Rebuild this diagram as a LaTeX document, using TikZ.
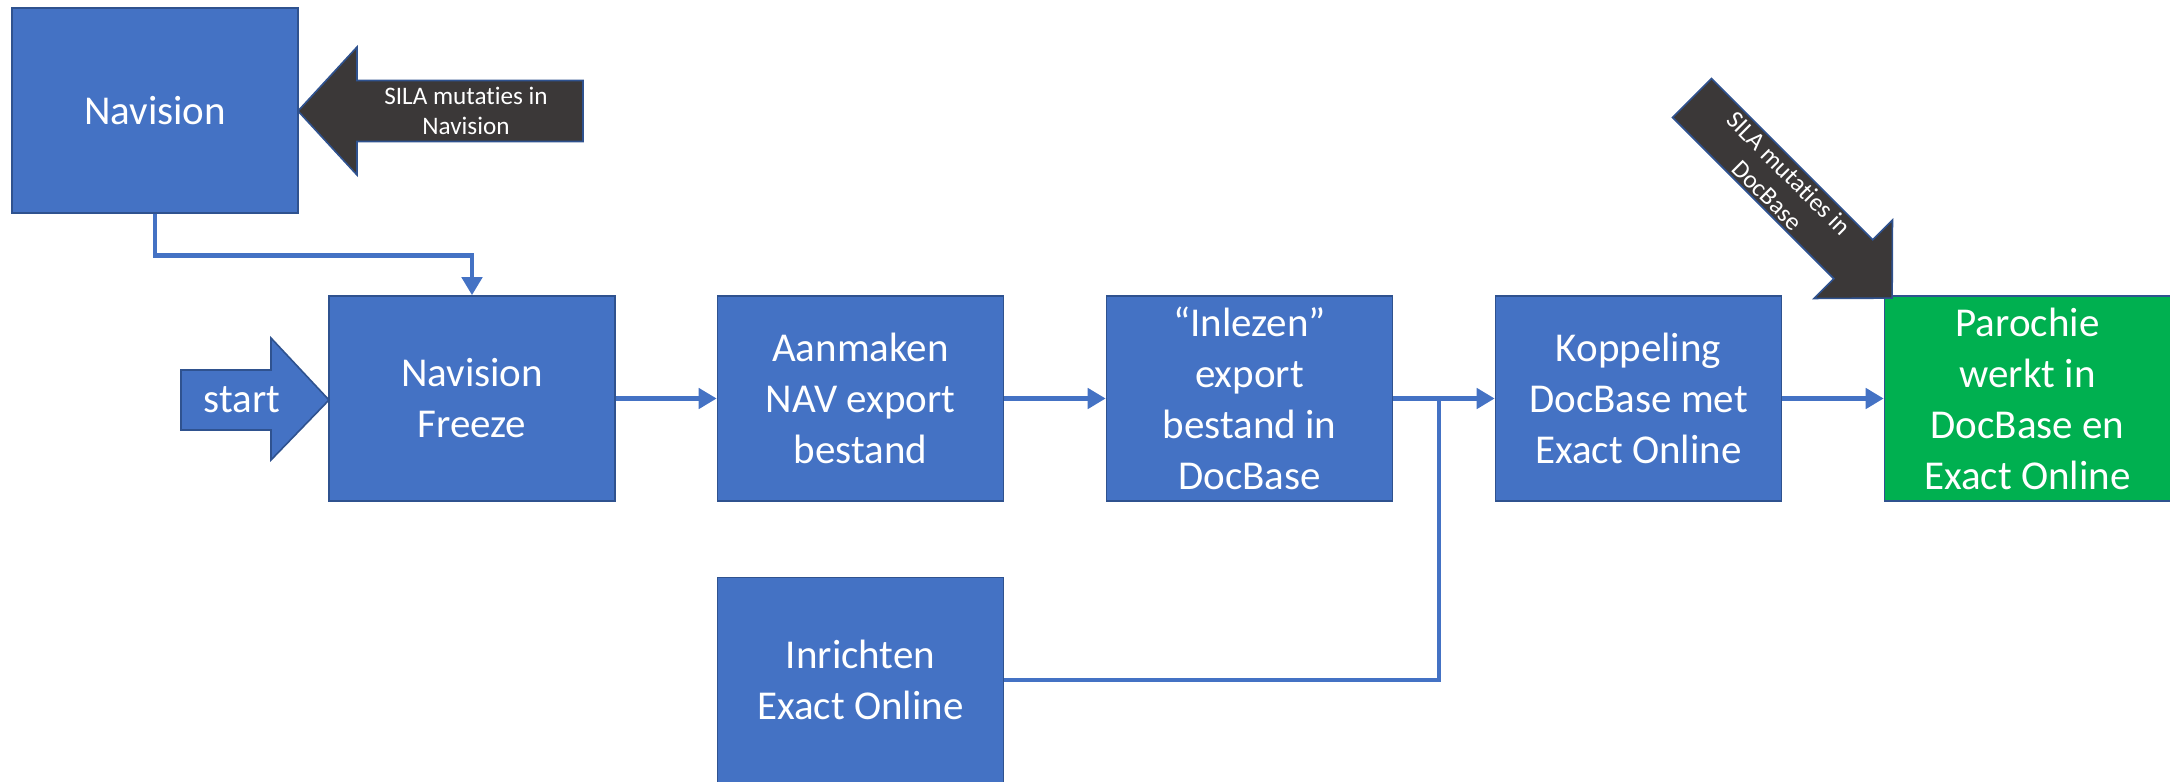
\documentclass[tikz,border=0pt]{standalone}
\usepackage{fontspec}
\setmainfont{Carlito}[Ligatures={TeX,CommonOff}]
\usetikzlibrary{arrows.meta}
\definecolor{boxblue}{HTML}{4472C4}
\definecolor{boxline}{HTML}{2F528F}
\definecolor{boxgreen}{HTML}{00B050}
\definecolor{darkfill}{HTML}{3B3838}

\begin{document}
\begin{tikzpicture}[x=0.5pt, y=-0.5pt,
  box/.style={draw=boxline, fill=boxblue, line width=0.8pt, minimum width=143pt,
    minimum height=102.5pt, inner sep=0pt, text=white, align=center,
    font=\fontsize{20.5}{25.5}\selectfont},
  greenbox/.style={box, fill=boxgreen},
  flow/.style={draw=boxblue, line width=2.4pt, -{Triangle[length=9pt,width=10pt]}},
  fatarrow/.style={draw=boxline, line width=0.8pt, line join=miter},
  smalltext/.style={text=white, align=center, inner sep=0pt,
    font=\fontsize{12.6}{15.2}\selectfont}]
\useasboundingbox (0,0) rectangle (2170,782);

% Nodes
\draw (155,110.5) node[box] (navision) {Navision};
\draw (472,398.5) node[box] (freeze) {Navision\\Freeze};
\draw (860.5,398.5) node[box] (aanmaken) {Aanmaken\\NAV export\\bestand};
\draw (1249.5,398.5) node[box] (inlezen) {``Inlezen''\\export\\bestand in\\DocBase};
\draw (1638.5,398.5) node[box] (koppeling) {Koppeling\\DocBase met\\Exact Online};
\draw (2027.5,398.5) node[greenbox] (parochie) {Parochie\\werkt in\\DocBase en\\Exact Online};
\draw (860.5,680) node[box] (inrichten) {Inrichten\\Exact Online};
\coordinate (join) at (1439,398.5);

% Big arrows
\draw[fatarrow, fill=boxblue] (329,400) -- (271,338) -- (271,370) -- (181,370)
  -- (181,430) -- (271,430) -- (271,460) -- cycle;
\draw (242,400) node[box, draw=none, fill=none, minimum width=0pt, minimum height=0pt] (startlabel) {start};

\draw[fatarrow, fill=darkfill] (298,111) -- (357,47) -- (357,80.5) -- (583,80.5)
  -- (583,141.5) -- (357,141.5) -- (357,175) -- cycle;
\draw (466,111) node[smalltext] (silanav) {SILA mutaties in\\Navision};

\begin{scope}[shift={(1692,98)}, rotate=-45]
\draw[fatarrow, fill=darkfill] (0,-27.5) -- (228,-27.5) -- (228,-55.5) -- (283,0)
  -- (228,55.5) -- (228,27.5) -- (0,27.5) -- cycle;
\draw (122,0) node[smalltext, rotate=-45] (siladoc) {SILA mutaties in\\DocBase};
\end{scope}

% Links
\draw[flow] (navision.south) -- ++(0,42) -| (freeze.north); % navision --> freeze
\draw[flow] (freeze.east) -- (aanmaken.west);
\draw[flow] (aanmaken.east) -- (inlezen.west);
\draw[flow] (inlezen.east) -- (koppeling.west);
\draw[flow] (koppeling.east) -- (parochie.west);
\draw[flow, -] (inrichten.east) -| (join); % inrichten joins the main line

\end{tikzpicture}
\end{document}
